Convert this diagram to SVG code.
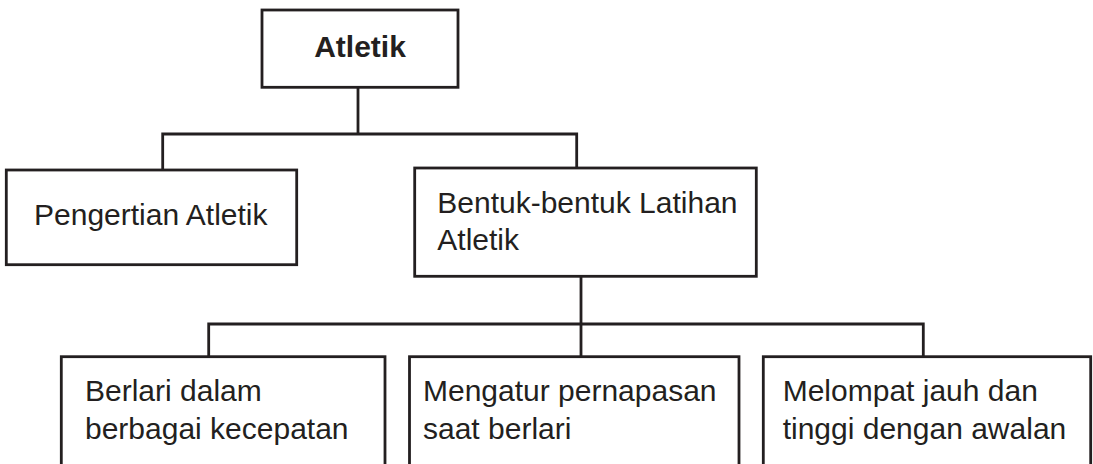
<svg xmlns="http://www.w3.org/2000/svg" width="1093" height="464" viewBox="0 0 1093 464">
<style>
.box{fill:#ffffff;stroke:#231f20;stroke-width:2.8}
.con{fill:none;stroke:#231f20;stroke-width:2.8;stroke-linejoin:miter}
.t{font-family:"Liberation Sans",Arial,sans-serif;font-size:30px;fill:#231f20}
.b{font-weight:bold;text-anchor:middle}
</style>
<rect width="1093" height="464" fill="#ffffff"/>
<g id="connectors">
<path class="con" d="M358 87.3 V134"/>
<path class="con" d="M162.7 170 V134 H576.7 V168"/>
<path class="con" d="M581 276.3 V356.7"/>
<path class="con" d="M208.7 356.7 V324 H923.3 V356.7"/>
</g>
<g id="atletik">
<rect class="box" x="262" y="10" width="196" height="77.3"/>
<text class="t b" x="360" y="57.3">Atletik</text>
</g>
<g id="pengertian">
<rect class="box" x="6.3" y="170" width="290.4" height="94.7"/>
<text class="t" x="34" y="225">Pengertian Atletik</text>
</g>
<g id="bentuk">
<rect class="box" x="414.7" y="168" width="341.6" height="108.3"/>
<text class="t" x="437.3" y="212.7">Bentuk-bentuk Latihan</text>
<text class="t" x="437.3" y="250">Atletik</text>
</g>
<g id="berlari">
<rect class="box" x="61.3" y="356.7" width="323.7" height="120"/>
<text class="t" x="85" y="400.7">Berlari dalam</text>
<text class="t" x="85" y="438.5">berbagai kecepatan</text>
</g>
<g id="mengatur">
<rect class="box" x="409.5" y="356.7" width="329.5" height="120"/>
<text class="t" x="423" y="400.7">Mengatur pernapasan</text>
<text class="t" x="423" y="438.5">saat berlari</text>
</g>
<g id="melompat">
<rect class="box" x="763.3" y="356.7" width="327.4" height="120"/>
<text class="t" x="782.7" y="400.7">Melompat jauh dan</text>
<text class="t" x="782.7" y="438.5">tinggi dengan awalan</text>
</g>
</svg>
